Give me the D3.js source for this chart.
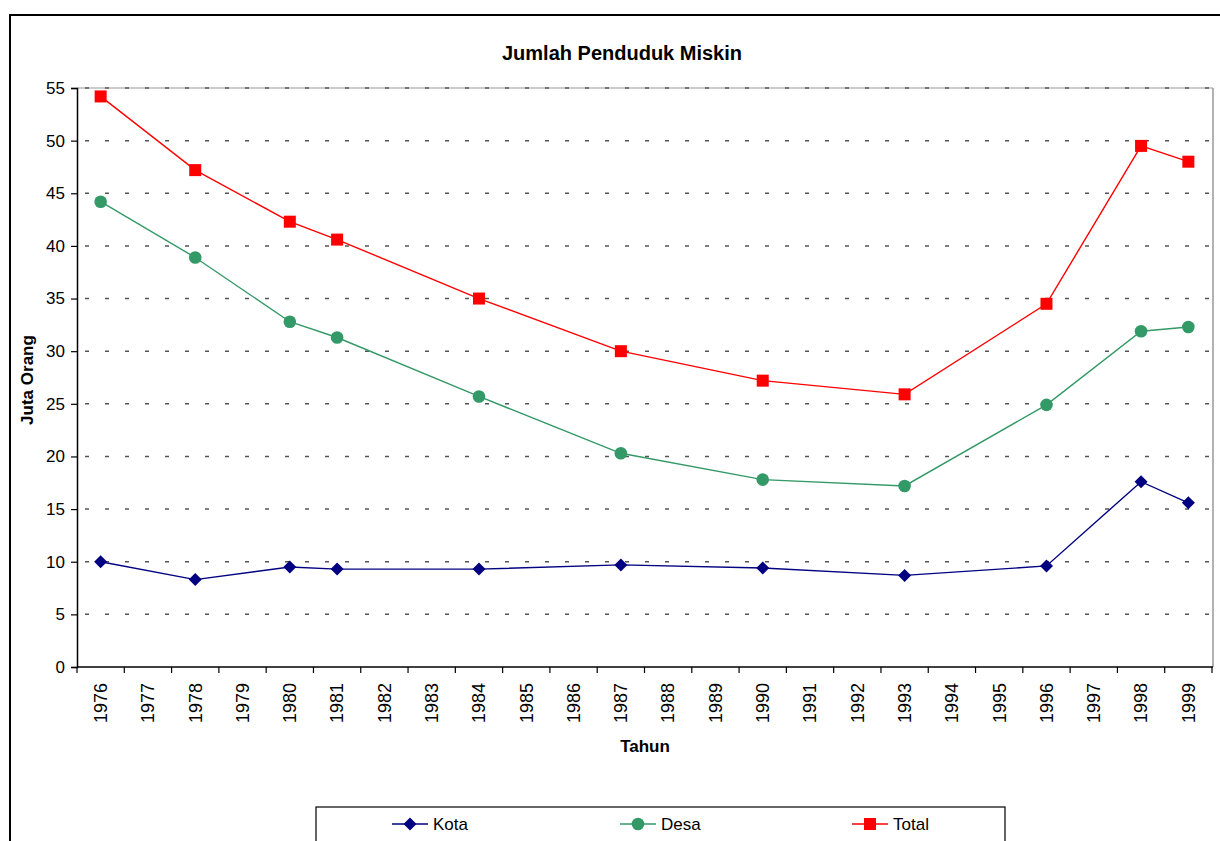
<!DOCTYPE html>
<html><head><meta charset="utf-8">
<script src="https://cdn.jsdelivr.net/npm/d3@7"></script>
<style>body{margin:0;background:#fff}svg{display:block;font-family:"Liberation Sans",Arial,sans-serif}</style>
</head><body>
<script>
const years = ["1976","1977","1978","1979","1980","1981","1982","1983","1984","1985","1986","1987","1988","1989","1990","1991","1992","1993","1994","1995","1996","1997","1998","1999"];
const dataYears = ["1976","1978","1980","1981","1984","1987","1990","1993","1996","1998","1999"];
const kota  = [10.0, 8.3, 9.5, 9.3, 9.3, 9.7, 9.4, 8.7, 9.6, 17.6, 15.6];
const desa  = [44.2, 38.9, 32.8, 31.3, 25.7, 20.3, 17.8, 17.2, 24.9, 31.9, 32.3];
const total = [54.2, 47.2, 42.3, 40.6, 35.0, 30.0, 27.2, 25.9, 34.5, 49.5, 48.0];
const yTicks = [0,5,10,15,20,25,30,35,40,45,50,55];

const W=1220,H=841;
const svg=d3.select("body").append("svg").attr("width",W).attr("height",H);
svg.append("rect").attr("x",10).attr("y",15).attr("width",1240).attr("height",900).attr("fill","#fff").attr("stroke","#000").attr("stroke-width",2);

const L=77,R=1212,T=88,B=667;
const x=d3.scaleBand().domain(years).range([L,R]);
const y=d3.scaleLinear().domain([0,55]).range([B,T]);

// plot area border (top/right grey)
svg.append("line").attr("x1",L).attr("x2",R+1).attr("y1",T).attr("y2",T).attr("stroke","#999").attr("stroke-width",1);
svg.append("line").attr("x1",R+1).attr("x2",R+1).attr("y1",T).attr("y2",B).attr("stroke","#999").attr("stroke-width",1.5);

// grid
svg.append("g").selectAll("line").data(yTicks.filter(d=>d>0)).join("line")
  .attr("x1",L).attr("x2",R).attr("y1",d=>y(d)).attr("y2",d=>y(d))
  .attr("stroke","#555").attr("stroke-width",1.5).attr("stroke-dasharray","4,16").attr("stroke-dashoffset",-8);

// y axis
const ya=svg.append("g").attr("transform",`translate(${L},0)`)
  .call(d3.axisLeft(y).tickValues(yTicks).tickSize(6).tickPadding(6));
ya.select(".domain").attr("stroke","#000").attr("stroke-width",1.5);
ya.selectAll(".tick line").attr("stroke","#000").attr("stroke-width",1.2);
ya.selectAll("text").attr("font-size",17).attr("font-family","Liberation Sans, Arial").attr("fill","#000");

// x axis
const xa=svg.append("g").attr("transform",`translate(0,${B})`);
xa.append("line").attr("x1",L).attr("x2",R+1).attr("y1",0).attr("y2",0).attr("stroke","#000").attr("stroke-width",1.5);
const bounds=years.map(d=>x(d)).concat([R]);
xa.selectAll("line.tk").data(bounds).join("line").attr("class","tk")
  .attr("x1",d=>d).attr("x2",d=>d).attr("y1",0).attr("y2",6).attr("stroke","#000").attr("stroke-width",1.2);
xa.selectAll("text").data(years).join("text")
  .attr("transform",d=>`translate(${x(d)+x.bandwidth()/2},16) rotate(-90)`)
  .attr("text-anchor","end").attr("dy","0.35em").attr("font-size",18).attr("fill","#000").text(d=>d);

// title & axis labels
svg.append("text").attr("x",622).attr("y",60).attr("text-anchor","middle").attr("font-weight","bold").attr("font-size",20).text("Jumlah Penduduk Miskin");
svg.append("text").attr("x",645).attr("y",752).attr("text-anchor","middle").attr("font-weight","bold").attr("font-size",17).text("Tahun");
svg.append("text").attr("transform","translate(33,380) rotate(-90)").attr("text-anchor","middle").attr("font-weight","bold").attr("font-size",17).text("Juta Orang");

const cx=d=>x(d)+x.bandwidth()/2;
const series=[
  {name:"Kota",vals:kota,color:"#000080",shape:"diamond"},
  {name:"Desa",vals:desa,color:"#339966",shape:"circle"},
  {name:"Total",vals:total,color:"#FF0000",shape:"square"}
];
const line=d3.line().x(d=>cx(d[0])).y(d=>y(d[1]));
function marker(g,shape,color){
  if(shape==="diamond") g.append("path").attr("d","M0,-6.5L6.5,0L0,6.5L-6.5,0Z").attr("fill",color);
  else if(shape==="circle") g.append("circle").attr("r",6.3).attr("fill",color);
  else g.append("rect").attr("x",-6).attr("y",-6).attr("width",12).attr("height",12).attr("fill",color);
}
series.forEach(s=>{
  const pts=dataYears.map((yr,i)=>[yr,s.vals[i]]);
  svg.append("path").attr("d",line(pts)).attr("fill","none").attr("stroke",s.color).attr("stroke-width",1.4);
  pts.forEach(p=>{
    const g=svg.append("g").attr("transform",`translate(${cx(p[0])},${y(p[1])})`);
    marker(g,s.shape,s.color);
  });
});

// legend
svg.append("rect").attr("x",316).attr("y",807).attr("width",689).attr("height",60).attr("fill","#fff").attr("stroke","#000").attr("stroke-width",1.2);
const lx=[392,620,852];
series.forEach((s,i)=>{
  const g=svg.append("g").attr("transform",`translate(${lx[i]},824)`);
  g.append("line").attr("x1",0).attr("x2",36).attr("y1",0).attr("y2",0).attr("stroke",s.color).attr("stroke-width",1.4);
  const m=g.append("g").attr("transform","translate(18,0)");
  marker(m,s.shape,s.color);
  g.append("text").attr("x",41).attr("y",0).attr("dy","0.35em").attr("font-size",17).attr("fill","#000").text(s.name);
});
</script>
</body></html>
